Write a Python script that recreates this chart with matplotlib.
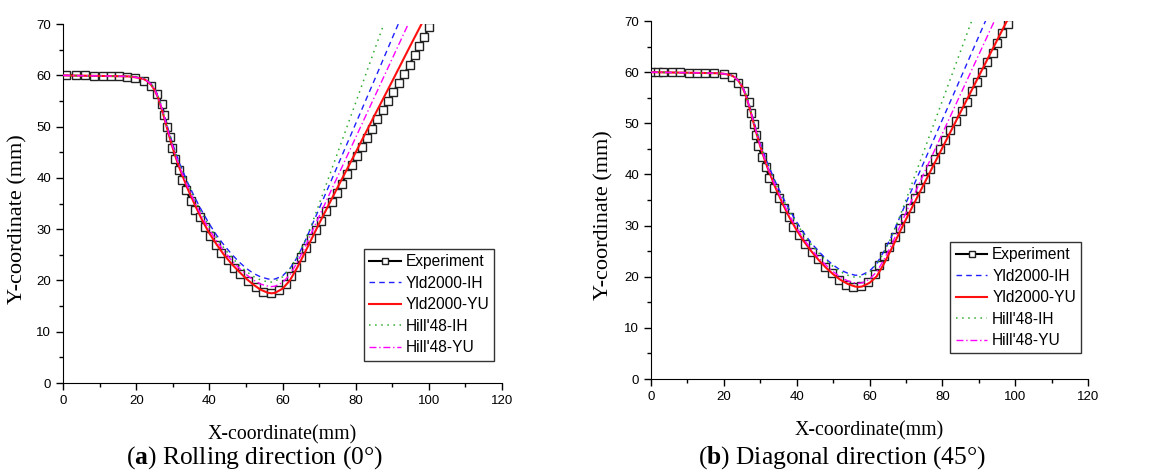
import matplotlib
matplotlib.use("Agg")
import matplotlib.pyplot as plt
from matplotlib.ticker import MultipleLocator

plt.rcParams['mathtext.fontset'] = 'custom'
plt.rcParams['mathtext.rm'] = 'Liberation Serif'
plt.rcParams['mathtext.bf'] = 'Liberation Serif:bold'

labels = ["Experiment", "Yld2000-IH", "Yld2000-YU", "Hill'48-IH", "Hill'48-YU"]
captions = [r"($\mathbf{a}$) Rolling direction (0°)", r"($\mathbf{b}$) Diagonal direction (45°)"]

# --- (a) rolling direction ---
exp_a_x = [0.9, 3.6, 6.1, 8.5, 10.8, 13.0, 15.2, 17.5, 19.8, 22.1, 24.0, 25.8, 27.0, 27.7, 28.5,
           29.2, 29.9, 30.7, 31.6, 32.6, 33.7, 34.9, 36.1, 37.4, 38.8, 40.1, 41.7, 43.3, 45.1, 46.8,
           48.5, 50.6, 52.7, 54.7, 56.8, 58.9, 60.9, 62.2, 63.6, 65.1, 66.4, 67.8, 69.1, 70.4, 72.0,
           73.4, 74.8, 76.2, 77.6, 78.9, 80.3, 81.6, 83.0, 84.5, 85.9, 87.4, 88.8, 90.3, 91.7, 93.2,
           94.7, 96.1, 97.4, 98.7, 100.1]
exp_a_y = [60.1, 60.0, 60.0, 59.9, 59.9, 59.8, 59.8, 59.7, 59.5, 59.0, 58.0, 56.4, 54.4, 52.3, 50.0,
           47.9, 45.8, 43.7, 41.6, 39.6, 37.6, 35.5, 33.8, 32.3, 30.4, 28.7, 27.0, 25.4, 23.9, 22.5,
           21.2, 19.8, 18.7, 17.8, 17.6, 18.1, 19.3, 20.9, 22.6, 24.5, 26.3, 28.2, 29.8, 31.6, 33.6,
           35.3, 37.1, 38.9, 40.7, 42.5, 44.2, 46.1, 47.8, 49.6, 51.4, 53.2, 55.0, 56.7, 58.6, 60.2,
           62.1, 64.0, 65.7, 67.5, 69.4]

# shared x grid of the simulated profiles
x_sim = [0, 10, 18, 20, 22, 23, 24, 25, 26, 27, 28, 29, 30, 31, 32, 34, 36, 38, 40, 42, 44, 46,
         48, 50, 52, 54, 56, 57, 58, 60, 62, 64, 66, 68, 70, 75, 80, 85, 90, 95, 100]

yld_ih_a = [60.0, 59.9, 59.8, 59.7, 59.4, 59.0, 58.4, 57.5, 56.0, 53.9, 51.4, 48.9, 46.6, 44.5, 42.6,
            39.2, 36.2, 33.5, 31.0, 28.8, 26.9, 25.2, 23.7, 22.4, 21.4, 20.7, 20.3, 20.2, 20.3, 20.9,
            22.3, 24.5, 27.4, 30.7, 34.0, 42.3, 50.6, 58.9, 67.3, 75.6, 83.9]
yld_yu_a = [60.0, 59.9, 59.8, 59.6, 59.3, 58.9, 58.2, 57.2, 55.6, 53.4, 50.8, 48.2, 45.8, 43.6, 41.6,
            38.0, 34.8, 31.8, 29.2, 27.0, 25.0, 23.3, 21.8, 20.4, 19.2, 18.2, 17.6, 17.5, 17.6, 18.4,
            20.0, 22.5, 25.3, 28.2, 31.1, 38.1, 45.0, 52.0, 58.9, 65.9, 72.8]
hill_ih_a = [60.0, 59.9, 59.8, 59.7, 59.4, 59.0, 58.4, 57.4, 55.9, 53.8, 51.2, 48.7, 46.4, 44.2, 42.3,
             38.9, 35.8, 33.0, 30.5, 28.3, 26.3, 24.6, 23.1, 21.8, 20.8, 20.1, 19.7, 19.7, 19.9, 20.7,
             22.3, 24.6, 27.5, 31.0, 34.9, 44.8, 54.7, 64.7, 74.6, 84.5, 94.5]
hill_yu_a = [60.0, 59.9, 59.8, 59.6, 59.3, 58.9, 58.3, 57.3, 55.7, 53.6, 51.0, 48.5, 46.1, 43.9, 41.9,
             38.4, 35.3, 32.4, 29.9, 27.7, 25.7, 24.0, 22.5, 21.2, 20.1, 19.3, 18.9, 18.8, 18.9, 19.6,
             21.1, 23.5, 26.3, 29.4, 32.5, 40.2, 47.9, 55.6, 63.3, 71.0, 78.7]

# --- (b) diagonal direction ---
exp_b_x = [0.0, 2.0, 3.4, 5.7, 7.9, 10.3, 12.6, 14.9, 17.2, 19.9, 22.2, 24.0, 25.6, 26.8, 27.4,
           28.2, 28.8, 29.5, 30.4, 31.5, 32.5, 33.8, 35.2, 36.4, 37.8, 39.1, 40.7, 42.4, 44.1, 45.9,
           47.8, 49.6, 51.5, 53.5, 55.6, 57.7, 59.7, 61.5, 62.7, 64.0, 65.4, 67.0, 68.4, 69.7, 71.1,
           72.5, 73.9, 75.2, 76.6, 78.1, 79.4, 80.8, 82.2, 83.7, 85.3, 86.7, 88.1, 89.4, 90.9, 92.3,
           93.8, 95.1, 96.4, 97.9]
exp_b_y = [60.0, 60.0, 60.0, 60.0, 60.0, 59.9, 59.9, 59.9, 59.8, 59.6, 59.0, 57.9, 56.4, 54.2, 52.0,
           49.8, 47.7, 45.6, 43.5, 41.4, 39.4, 37.4, 35.3, 33.4, 31.6, 29.8, 28.2, 26.5, 24.9, 23.4,
           22.0, 20.7, 19.4, 18.4, 17.9, 18.1, 19.0, 20.5, 22.3, 24.1, 25.9, 27.7, 29.5, 31.4, 33.4,
           35.3, 37.3, 39.1, 41.0, 43.0, 44.9, 46.7, 48.7, 50.5, 52.5, 54.2, 56.4, 58.1, 60.1, 61.9,
           63.7, 65.8, 67.6, 69.4]

yld_ih_b = [60.0, 59.9, 59.8, 59.7, 59.4, 59.0, 58.4, 57.4, 55.8, 53.6, 51.0, 48.5, 46.2, 44.1, 42.2,
            38.8, 35.8, 33.1, 30.7, 28.5, 26.6, 25.0, 23.5, 22.3, 21.3, 20.7, 20.3, 20.3, 20.4, 21.1,
            22.6, 25.0, 27.8, 31.1, 34.4, 42.5, 50.7, 58.8, 67.0, 75.1, 83.3]
yld_yu_b = [60.0, 59.9, 59.8, 59.7, 59.4, 59.0, 58.3, 57.2, 55.5, 53.2, 50.5, 47.9, 45.5, 43.3, 41.3,
            37.7, 34.5, 31.6, 29.1, 26.9, 25.0, 23.3, 21.8, 20.5, 19.4, 18.6, 18.1, 18.0, 18.1, 18.8,
            20.1, 22.6, 25.4, 28.3, 31.2, 38.2, 45.2, 52.2, 59.2, 66.2, 73.2]
hill_ih_b = [60.0, 59.9, 59.8, 59.7, 59.4, 59.0, 58.4, 57.4, 55.8, 53.5, 50.9, 48.4, 46.0, 43.9, 42.0,
             38.6, 35.5, 32.8, 30.4, 28.2, 26.3, 24.7, 23.2, 22.0, 21.0, 20.3, 19.9, 19.9, 20.1, 20.9,
             22.5, 24.8, 27.7, 31.2, 35.0, 44.7, 54.4, 64.1, 73.8, 83.5, 93.2]
hill_yu_b = [60.0, 59.9, 59.8, 59.7, 59.4, 59.0, 58.3, 57.3, 55.6, 53.3, 50.7, 48.1, 45.7, 43.5, 41.5,
             38.0, 34.9, 32.0, 29.5, 27.3, 25.4, 23.7, 22.3, 21.0, 19.9, 19.2, 18.8, 18.7, 18.8, 19.5,
             21.0, 23.4, 26.2, 29.3, 32.5, 40.3, 48.0, 55.7, 63.4, 71.1, 78.8]

panels = [
    (exp_a_x, exp_a_y, [yld_ih_a, yld_yu_a, hill_ih_a, hill_yu_a]),
    (exp_b_x, exp_b_y, [yld_ih_b, yld_yu_b, hill_ih_b, hill_yu_b]),
]

styles = [
    dict(color='#1f1fff', ls=(0, (4, 3)), lw=1.0),
    dict(color='#ff1010', ls='-', lw=1.5),
    dict(color='#2eaa2e', ls=(0, (1, 3)), lw=1.1),
    dict(color='#ff00ff', ls=(0, (5, 2, 1, 2)), lw=1.0),
]

fig = plt.figure(figsize=(11.63, 4.71), dpi=100)
rects = [[0.0542, 0.1868, 0.3775, 0.762], [0.5598, 0.1953, 0.3757, 0.760]]
leg_anchor = [(0.982, 0.373), (0.984, 0.383)]
ylab_x = [-0.082, -0.085]
cap_x = [254 / 1163, 842 / 1163]

for i, (ex, ey, sims) in enumerate(panels):
    ax = fig.add_axes(rects[i])
    ax.plot(ex, ey, color='black', lw=1.5, marker='s', ms=5.3, mfc='white',
            mec='#222222', mew=1.0, label=labels[0], zorder=2)
    for j, ys in enumerate(sims):
        ax.plot(x_sim, ys, label=labels[j + 1], zorder=3, **styles[j])

    ax.set_xlim(0, 120)
    ax.set_ylim(0, 70)
    ax.xaxis.set_major_locator(MultipleLocator(20))
    ax.xaxis.set_minor_locator(MultipleLocator(10))
    ax.yaxis.set_major_locator(MultipleLocator(10))
    ax.yaxis.set_minor_locator(MultipleLocator(5))
    ax.spines['top'].set_visible(False)
    ax.spines['right'].set_visible(False)
    ax.tick_params(which='both', direction='out', width=1.0, labelsize=9.5)
    ax.tick_params(which='major', length=5)
    ax.tick_params(which='minor', length=3)
    for lab in ax.get_xticklabels() + ax.get_yticklabels():
        lab.set_family('Liberation Sans')

    ax.set_xlabel("X-coordinate(mm)", family='Liberation Serif', fontsize=14.3)
    ax.set_ylabel("Y-coordinate (mm)", family='Liberation Serif', fontsize=16)
    ax.xaxis.set_label_coords(0.5, -0.117)
    ax.yaxis.set_label_coords(ylab_x[i], 0.457)

    leg = ax.legend(loc='upper right', bbox_to_anchor=leg_anchor[i], borderaxespad=0,
                    prop={'family': 'Liberation Sans', 'size': 11.2}, frameon=True,
                    fancybox=False, handlelength=2.05, labelspacing=0.42,
                    handletextpad=0.3, borderpad=0.33)
    leg.get_frame().set_edgecolor('black')
    leg.get_frame().set_linewidth(1.0)
    leg.legend_handles[0].set_markersize(4.5)

    fig.text(cap_x[i], 1 - 464 / 471, captions[i], ha='center', va='baseline',
             family='Liberation Serif', fontsize=18.4)

fig.savefig("out.png", dpi=100)
